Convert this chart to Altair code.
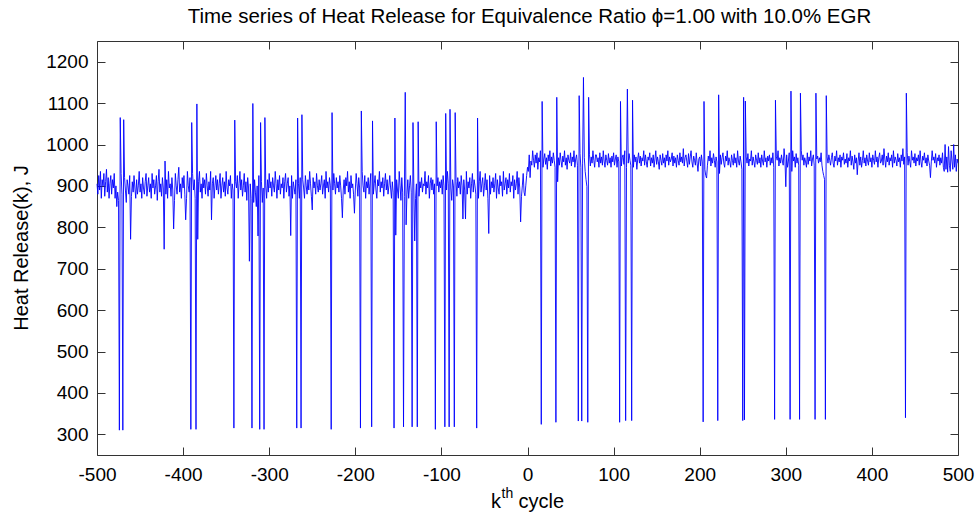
import altair as alt
import pandas as pd

# ---------------- data ----------------
# heat release baseline, cycles -500 .. -1 (read approx. from the picture)
hr_before = [
    905, 880, 925, 890, 935, 870, 915, 900, 930, 875, 910, 940, 885, 920, 870, 905, 925, 880, 915, 895,
    930, 870, 900, 920, 885, 865, 910, 895, 930, 880, 905, 875, 920, 890, 860, 915, 900, 880, 925, 890,
    875, 910, 885, 925, 895, 870, 915, 880, 900, 935, 885, 905, 870, 920, 895, 880, 910, 930, 875, 900,
    920, 885, 905, 870, 930, 895, 915, 880, 900, 925, 865, 910, 940, 885, 905, 875, 920, 895, 930, 890,
    880, 915, 870, 935, 895, 905, 875, 920, 890, 910, 865, 930, 900, 880, 915, 945, 885, 905, 870, 920,
    895, 925, 880, 910, 870, 935, 900, 885, 920, 875, 905, 930, 890, 915, 870, 900, 925, 880, 910, 935,
    885, 905, 870, 920, 895, 915, 880, 930, 900, 875, 910, 890, 935, 880, 905, 920, 870, 900, 925, 890,
    915, 880, 905, 930, 870, 900, 920, 885, 910, 875, 935, 895, 880, 915, 900, 925, 870, 905, 890, 920,
    880, 910, 895, 925, 870, 905, 935, 890, 915, 875, 900, 930, 885, 910, 865, 920, 895, 880, 905, 870,
    905, 880, 860, 915, 885, 850, 900, 870, 925, 890, 875, 910, 860, 895, 880, 920, 900, 870, 915, 885,
    930, 895, 910, 875, 920, 900, 885, 935, 905, 870, 915, 890, 925, 880, 905, 895, 920, 870, 910, 930,
    885, 905, 920, 875, 900, 890, 925, 870, 910, 895, 880, 915, 930, 890, 905, 870, 920, 900, 885, 915,
    895, 870, 925, 900, 880, 915, 890, 935, 905, 875, 860, 920, 895, 910, 880, 930, 900, 885, 915, 890,
    905, 925, 880, 900, 915, 870, 935, 895, 910, 885, 920, 900, 875, 915, 890, 930, 905, 880, 920, 895,
    910, 885, 925, 900, 870, 905, 890, 915, 880, 920, 900, 935, 885, 910, 870, 925, 895, 905, 880, 915,
    890, 930, 905, 875, 920, 895, 910, 880, 935, 900, 885, 925, 870, 910, 895, 920, 880, 905, 930, 890,
    915, 880, 905, 925, 890, 870, 915, 900, 935, 885, 910, 895, 920, 875, 905, 930, 890, 915, 880, 900,
    925, 895, 870, 910, 885, 860, 905, 880, 915, 890, 870, 935, 900, 865, 920, 885, 905, 875, 930, 890,
    880, 915, 870, 900, 925, 885, 910, 860, 895, 920, 870, 905, 890, 930, 875, 910, 895, 920, 885, 905,
    900, 935, 880, 910, 895, 925, 870, 905, 920, 890, 915, 880, 905, 930, 875, 900, 920, 885, 910, 895,
    915, 880, 925, 900, 870, 910, 890, 935, 905, 880, 920, 895, 865, 915, 900, 930, 885, 910, 875, 920,
    895, 910, 880, 925, 900, 870, 915, 890, 905, 935, 880, 910, 895, 920, 870, 905, 930, 885, 915, 900,
    880, 920, 895, 870, 910, 935, 885, 905, 920, 875, 900, 930, 890, 915, 870, 905, 925, 880, 910, 895,
    920, 885, 905, 930, 870, 915, 895, 880, 925, 900, 910, 875, 935, 890, 905, 920, 880, 915, 895, 930,
    885, 910, 900, 925, 870, 915, 890, 905, 935, 880, 920, 895, 910, 875, 900, 930, 885, 876, 900, 925,
]

# heat release baseline, cycles 0 .. 500
hr_after = [
    945, 935, 975, 920, 960, 950, 985, 962, 945, 975, 955, 980, 940, 968, 958, 985, 950, 970, 945, 965,
    978, 952, 968, 940, 975, 960, 985, 948, 970, 955, 980, 962, 945, 975, 958, 910, 968, 950, 980, 960,
    945, 972, 958, 985, 950, 968, 940, 975, 962, 955, 980, 948, 970, 958, 985, 945, 965, 975, 950, 968,
    960, 978, 945, 970, 955, 950, 968, 935, 915, 898, 930, 960, 975, 948, 970, 955, 985, 962, 945, 975,
    975, 958, 968, 945, 980, 955, 970, 950, 985, 960, 945, 975, 962, 950, 978, 955, 968, 945, 972, 958,
    980, 950, 965, 975, 945, 970, 958, 955, 980, 948, 968, 975, 952, 985, 960, 945, 970, 955, 978, 962,
    950, 968, 960, 945, 975, 958, 970, 940, 965, 980, 955, 972, 948, 968, 960, 985, 950, 975, 958, 945,
    970, 962, 980, 948, 968, 955, 975, 945, 965, 985, 952, 970, 958, 940, 975, 962, 950, 978, 955, 968,
    945, 975, 960, 985, 950, 970, 958, 965, 980, 948, 972, 955, 968, 945, 975, 962, 950, 980, 958, 970,
    955, 990, 948, 968, 975, 960, 945, 978, 952, 970, 985, 958, 945, 972, 962, 950, 980, 955, 935, 965,
    970, 948, 975, 958, 955, 960, 940, 925, 919, 950, 972, 960, 985, 948, 968, 955, 978, 962, 945, 970,
    958, 940, 965, 930, 975, 952, 968, 980, 955, 945, 972, 960, 985, 950, 968, 958, 945, 975, 962, 950,
    978, 955, 968, 945, 985, 960, 950, 972, 958, 940, 925, 955, 935, 950, 970, 955, 978, 948, 965, 960,
    985, 950, 970, 958, 945, 975, 962, 952, 980, 955, 968, 945, 975, 960, 950, 985, 958, 968, 945, 972,
    960, 975, 950, 968, 955, 980, 945, 940, 930, 970, 962, 985, 948, 968, 955, 975, 960, 950, 990, 965,
    898, 975, 945, 960, 980, 950, 955, 935, 985, 960, 970, 945, 978, 955, 968, 950, 940, 945, 985, 962,
    975, 950, 968, 958, 945, 980, 952, 970, 960, 985, 948, 965, 975, 950, 955, 945, 965, 972, 955, 968,
    958, 980, 950, 935, 925, 916, 940, 960, 970, 955, 975, 962, 950, 968, 980, 955, 945, 972, 960, 985,
    950, 968, 958, 975, 945, 970, 962, 980, 952, 965, 955, 978, 945, 968, 960, 985, 950, 972, 958, 940,
    975, 955, 968, 927, 960, 980, 950, 970, 945, 962, 985, 955, 968, 948, 975, 960, 950, 980, 958, 968,
    945, 975, 962, 952, 985, 958, 970, 945, 968, 980, 955, 960, 975, 950, 990, 965, 945, 972, 958, 980,
    950, 968, 960, 975, 945, 985, 955, 970, 962, 948, 978, 958, 968, 945, 975, 960, 990, 952, 970, 955,
    965, 980, 950, 972, 958, 945, 985, 962, 970, 955, 978, 948, 968, 960, 975, 950, 985, 958, 945, 972,
    962, 980, 955, 968, 948, 975, 960, 950, 920, 958, 985, 962, 970, 955, 978, 945, 968, 960, 975, 950,
    968, 955, 980, 945, 935, 1000, 940, 970, 933, 995, 950, 935, 985, 960, 940, 1000, 945, 975, 935, 965,
    955,
]

# misfire / recovery cycles and deep dips (cycle, value)
event_cycles = [
    -477, -474, -473, -470, -469, -461, -422, -421, -411, -397,
    -391, -390, -385, -384, -383, -367, -341, -340, -323, -320,
    -319, -313, -311, -310, -306, -305, -275, -268, -267, -263,
    -262, -250, -228, -227, -215, -201, -194, -193, -181, -180,
    -155, -154, -153, -144, -142, -141, -134, -133, -131, -128,
    -127, -107, -106, -96, -95, -91, -90, -85, -84, -75,
    -72, -59, -58, -45, -8,
    16, 17, 33, 34, 59, 60, 63, 65, 70, 71,
    107, 108, 114, 116, 121, 122, 204, 205, 221, 222,
    250, 251, 252, 253, 287, 288, 305, 306, 316, 317,
    334, 335, 346, 347, 439, 440,
]
event_values = [
    850, 310, 1065, 310, 1060, 771, 747, 960, 796, 818,
    312, 1053, 312, 1098, 771, 818, 315, 1059, 718, 315,
    1099, 779, 312, 1053, 312, 1065, 780, 315, 1064, 315,
    1072, 842, 312, 1077, 823, 834, 315, 1081, 318, 1057,
    315, 1064, 781, 318, 1126, 806, 318, 1053, 767, 318,
    1055, 312, 1055, 318, 1075, 318, 1085, 318, 1077, 820,
    820, 315, 1064, 785, 813,
    324, 1104, 329, 1114, 332, 1118, 332, 1162, 329, 1114,
    329, 1104, 333, 1134, 333, 1107, 330, 1104, 333, 1120,
    333, 1114, 335, 1105, 336, 1107, 336, 1129, 336, 1124,
    336, 1124, 336, 1118, 340, 1124,
]

x_ticks = [-500, -400, -300, -200, -100, 0, 100, 200, 300, 400, 500]
y_ticks = [300, 400, 500, 600, 700, 800, 900, 1000, 1100, 1200]

title_text = "Time series of Heat Release for Equivalence Ratio \u03d5=1.00 with 10.0% EGR"
y_title_text = "Heat Release(k), J"

# ---------------- table ----------------
cycles = list(range(-len(hr_before), 0)) + list(range(0, len(hr_after)))
series = dict(zip(cycles, hr_before + hr_after))
for k, v in zip(event_cycles, event_values):
    series[k] = v
df = pd.DataFrame({"cycle": cycles, "heat": [series[k] for k in cycles]})

# ---------------- chart ----------------
FONT = "Liberation Sans"
W, H = 861, 414

x_scale = alt.Scale(domain=[-500, 500], nice=False, zero=False)
y_scale = alt.Scale(domain=[250, 1250], nice=False, zero=False)

axis_common = dict(
    grid=False, domain=False, tickSize=8, offset=-8, tickColor="#333333",
    tickWidth=1, labelFont=FONT, labelFontSize=19, labelColor="#000000",
    title=None, labelFlush=False, labelOverlap=False,
    labelExpr="'' + datum.value",
)

line = alt.Chart(df).mark_line(color="#0000ff", strokeWidth=0.9).encode(
    x=alt.X("cycle:Q", scale=x_scale,
            axis=alt.Axis(orient="bottom", values=x_ticks, labelPadding=10, **axis_common)),
    y=alt.Y("heat:Q", scale=y_scale,
            axis=alt.Axis(orient="left", values=y_ticks, labelPadding=9, **axis_common)),
)

mirror_common = dict(axis_common)
mirror_common.pop("labelExpr")
mirror = alt.Chart(df).mark_point(opacity=0, size=1).encode(
    x=alt.X("cycle:Q", scale=x_scale,
            axis=alt.Axis(orient="top", values=x_ticks, labels=False, **mirror_common)),
    y=alt.Y("heat:Q", scale=y_scale,
            axis=alt.Axis(orient="right", values=y_ticks, labels=False, **mirror_common)),
)

title_mark = alt.Chart().mark_text(
    text=title_text, font=FONT, fontSize=20.5, align="center", baseline="alphabetic", color="black"
).encode(x=alt.value(W / 2 + 2), y=alt.value(-18))

ytitle_mark = alt.Chart().mark_text(
    text=y_title_text, font=FONT, fontSize=20, align="center", baseline="middle",
    angle=270, color="black"
).encode(x=alt.value(-75), y=alt.value(H / 2))

k_mark = alt.Chart().mark_text(
    text="k", font=FONT, fontSize=20, align="left", baseline="alphabetic", color="black"
).encode(x=alt.value(394), y=alt.value(467))
th_mark = alt.Chart().mark_text(
    text="th", font=FONT, fontSize=14, align="left", baseline="alphabetic", color="black"
).encode(x=alt.value(404.5), y=alt.value(457))
cycle_mark = alt.Chart().mark_text(
    text="cycle", font=FONT, fontSize=20, align="left", baseline="alphabetic", color="black"
).encode(x=alt.value(421.5), y=alt.value(467))

chart = alt.layer(
    line, mirror, title_mark, ytitle_mark, k_mark, th_mark, cycle_mark
).resolve_axis(x="independent", y="independent").properties(
    width=W, height=H,
    padding={"left": 97, "top": 41, "right": 21, "bottom": 65},
    autosize=alt.AutoSizeParams(type="none"),
    background="white",
).configure_view(stroke="#333333", strokeWidth=1)

chart.save("out.html", embed_options={"renderer": "svg", "actions": False})
